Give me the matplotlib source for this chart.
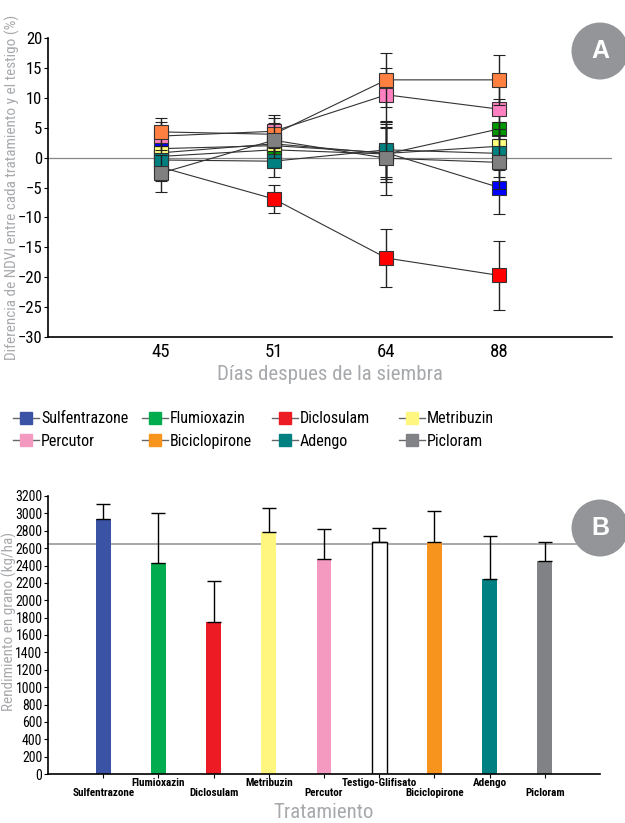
import numpy as np
import matplotlib.pyplot as plt
from matplotlib.lines import Line2D
from matplotlib.patches import Circle

plt.rcParams['font.family'] = ['Roboto Condensed', 'DejaVu Sans']

# ---- panel A data ----
days = ['45', '51', '64', '88']
names = ['Sulfentrazone', 'Flumioxazin', 'Diclosulam', 'Metribuzin',
         'Percutor', 'Biciclopirone', 'Adengo', 'Picloram']
ndvi = {
    'Sulfentrazone': [1.5, 2.0, 0.8, -5.0],
    'Flumioxazin':   [0.2, 1.3, 0.6, 4.8],
    'Diclosulam':    [-1.6, -6.9, -16.8, -19.7],
    'Metribuzin':    [0.8, 2.3, 0.7, 1.9],
    'Percutor':      [3.6, 4.4, 10.5, 8.1],
    'Biciclopirone': [4.3, 3.9, 13.0, 13.0],
    'Adengo':        [-0.4, -0.6, 1.3, 0.7],
    'Picloram':      [-2.6, 2.9, -0.1, -0.8],
}
ndvi_err = {
    'Sulfentrazone': [2.2, 2.8, 4.8, 4.5],
    'Flumioxazin':   [2.4, 2.6, 4.6, 5.0],
    'Diclosulam':    [2.3, 2.4, 4.9, 5.8],
    'Metribuzin':    [2.0, 2.5, 4.3, 4.0],
    'Percutor':      [2.3, 2.8, 4.5, 5.0],
    'Biciclopirone': [2.3, 2.8, 4.5, 4.2],
    'Adengo':        [2.4, 2.6, 4.6, 4.0],
    'Picloram':      [3.1, 2.9, 6.2, 4.5],
}
marker_cols = ['#0000ff', '#009900', '#ff0000', '#ffff80',
               '#ff80c0', '#ff8040', '#008080', '#808080']
legend_cols = ['#3a53a4', '#00ac4e', '#ed1c24', '#fff67f',
               '#f49ac1', '#f7941d', '#008080', '#808285']

# ---- panel B data ----
treat = ['Sulfentrazone', 'Flumioxazin', 'Diclosulam', 'Metribuzin', 'Percutor',
         'Testigo-Glifisato', 'Biciclopirone', 'Adengo', 'Picloram']
yield_kg = [2934, 2428, 1749, 2785, 2474, 2666, 2670, 2244, 2451]
yield_err = [176, 575, 476, 276, 349, 169, 360, 499, 215]
bar_cols = ['#3a53a4', '#00ac4e', '#ed1c24', '#fff67f', '#f49ac1',
            'white', '#f7941d', '#008080', '#808285']
testigo = 2648

gray_txt = '#a7a9ac'

fig = plt.figure(figsize=(6.25, 8.23), dpi=100)

# panel A
ax1 = fig.add_axes([48/625, 1-337/823, 564/625, 299/823])
x = np.arange(len(days))
ax1.axhline(0, color='#888888', lw=0.9, zorder=1)
for i, n in enumerate(names):
    ax1.errorbar(x, ndvi[n], yerr=ndvi_err[n], color='#333333', lw=0.8,
                 ecolor='#222222', elinewidth=1, capsize=4, capthick=1,
                 marker='s', markersize=10, markerfacecolor=marker_cols[i],
                 markeredgecolor='#333333', markeredgewidth=0.8, zorder=3 + i)
ax1.set_xlim(-1, 4)
ax1.set_ylim(-30, 20)
ax1.set_yticks(np.arange(-30, 21, 5))
ax1.set_xticks(x)
ax1.set_xticklabels(days, fontsize=13.5)
ax1.tick_params(axis='y', labelsize=12, length=3, pad=1)
ax1.tick_params(axis='x', length=0, pad=4)
for s in ['top', 'right']:
    ax1.spines[s].set_visible(False)
ax1.spines['left'].set_linewidth(1.2)
ax1.spines['bottom'].set_linewidth(1.2)
ax1.set_xlabel('Días despues de la siembra', fontsize=15, color=gray_txt, labelpad=3)
ax1.set_ylabel('Diferencia de NDVI entre cada tratamiento y el testigo (%)',
               fontsize=11, color=gray_txt)
ax1.yaxis.set_label_coords(-0.05, 0.5)

# legend between panels: four columns at fixed positions
handles = [Line2D([], [], color='#666666', lw=1, marker='s', markersize=8,
                  markerfacecolor=c, markeredgecolor=c) for c in legend_cols]
col_x = [13, 142, 272, 399]
for c in range(4):
    fig.legend([handles[c], handles[c + 4]], [names[c], names[c + 4]],
               loc='center left', bbox_to_anchor=(col_x[c]/625, 1-430/823),
               frameon=False, fontsize=11.5, handlelength=1.65, handletextpad=0.1,
               labelspacing=0.45, borderaxespad=0, borderpad=0)

# panel B
ax2 = fig.add_axes([48/625, 1-774/823, 552/625, 278/823])
xb = np.arange(len(treat))
ax2.bar(xb, yield_kg, width=0.27, color=bar_cols, edgecolor='none', zorder=2)
ax2.bar(xb[5], yield_kg[5], width=0.27, color='white', edgecolor='black', lw=1, zorder=2)
ax2.errorbar(xb, yield_kg, yerr=[np.zeros(len(treat)), yield_err], fmt='none',
             ecolor='black', elinewidth=1, capsize=5, capthick=1, zorder=3)
ax2.axhline(testigo, xmin=0, xmax=1.04, color='#999999', lw=1.2, clip_on=False, zorder=1)
ax2.set_xlim(-1, 9)
ax2.set_ylim(0, 3200)
ax2.set_yticks(np.arange(0, 3201, 200))
ax2.tick_params(axis='y', labelsize=10, length=3, pad=1)
ax2.set_xticks(xb)
ax2.set_xticklabels(treat, fontsize=8, fontweight='bold')
ax2.tick_params(axis='x', length=3, pad=1)
for k, lab in enumerate(ax2.get_xticklabels()):
    lab.set_y(0.005 if k % 2 else -0.031)
for s in ['top', 'right']:
    ax2.spines[s].set_visible(False)
ax2.spines['left'].set_linewidth(1.2)
ax2.spines['bottom'].set_linewidth(1.2)
ax2.set_xlabel('Tratamiento', fontsize=15, color=gray_txt)
ax2.xaxis.set_label_coords(0.5, -0.104)
ax2.set_ylabel('Rendimiento en grano (kg/ha)', fontsize=11, color=gray_txt)
ax2.yaxis.set_label_coords(-0.056, 0.547)

# panel badges (placed in inches so they stay round)
for lbl, cy in [('A', 51), ('B', 528)]:
    cx_in, cy_in = 600/100, (823 - cy)/100
    fig.patches.append(Circle((cx_in, cy_in), 0.285, transform=fig.dpi_scale_trans,
                              facecolor='#939598', edgecolor='none', zorder=10))
    fig.text(600/625, 1-cy/823, lbl, ha='center', va='center', color='white',
             fontsize=18, fontweight='bold', family=['Liberation Sans', 'DejaVu Sans'], zorder=11)

fig.savefig('out.png', dpi=100)
